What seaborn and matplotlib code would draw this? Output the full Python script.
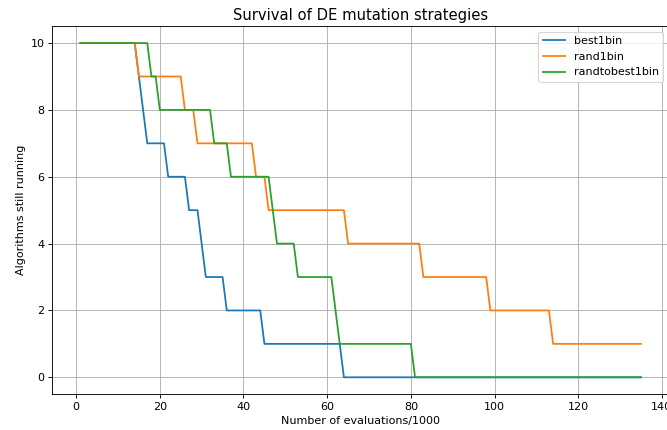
import matplotlib
matplotlib.use("Agg")
import matplotlib.pyplot as plt
import seaborn as sns
import pandas as pd

# Number of evaluations (thousands) at which the count of running algorithms changes
best1bin_x = [1, 14, 15, 17, 21, 22, 26, 27, 29, 31, 35, 36, 44, 45, 63, 64, 135]
best1bin_y = [10, 10, 9, 7, 7, 6, 6, 5, 5, 3, 3, 2, 2, 1, 1, 0, 0]

rand1bin_x = [1, 14, 15, 25, 26, 28, 29, 42, 43, 45, 46, 64, 65, 82, 83, 98, 99, 113, 114, 135]
rand1bin_y = [10, 10, 9, 9, 8, 8, 7, 7, 6, 6, 5, 5, 4, 4, 3, 3, 2, 2, 1, 1]

randtobest1bin_x = [1, 17, 18, 19, 20, 32, 33, 36, 37, 46, 48, 52, 53, 61, 63, 80, 81, 135]
randtobest1bin_y = [10, 10, 9, 9, 8, 8, 7, 7, 6, 6, 4, 4, 3, 3, 1, 1, 0, 0]

strategies = ["best1bin", "rand1bin", "randtobest1bin"]
series = {
    "best1bin": (best1bin_x, best1bin_y),
    "rand1bin": (rand1bin_x, rand1bin_y),
    "randtobest1bin": (randtobest1bin_x, randtobest1bin_y),
}

frames = []
for name in strategies:
    xs, ys = series[name]
    frames.append(pd.DataFrame({"evals": xs, "running": ys, "strategy": name}))
df = pd.concat(frames, ignore_index=True)

DPI = 80
fig = plt.figure(figsize=(667 / DPI, 430 / DPI), dpi=DPI)
ax = fig.add_axes([0.0784, 0.0837, 0.9246, 0.855])

sns.lineplot(data=df, x="evals", y="running", hue="strategy",
             hue_order=strategies, palette=sns.color_palette("tab10", 3),
             estimator=None, sort=False, linewidth=1.6, ax=ax)

ax.set_title("Survival of DE mutation strategies", fontsize=13.3)
ax.set_xlabel("Number of evaluations/1000")
ax.set_ylabel("Algorithms still running")
ax.set_xticks([0, 20, 40, 60, 80, 100, 120, 140])
ax.set_yticks([0, 2, 4, 6, 8, 10])
ax.grid(True)
ax.legend(title=None, loc="upper right")

fig.savefig("out.png", dpi=DPI)
